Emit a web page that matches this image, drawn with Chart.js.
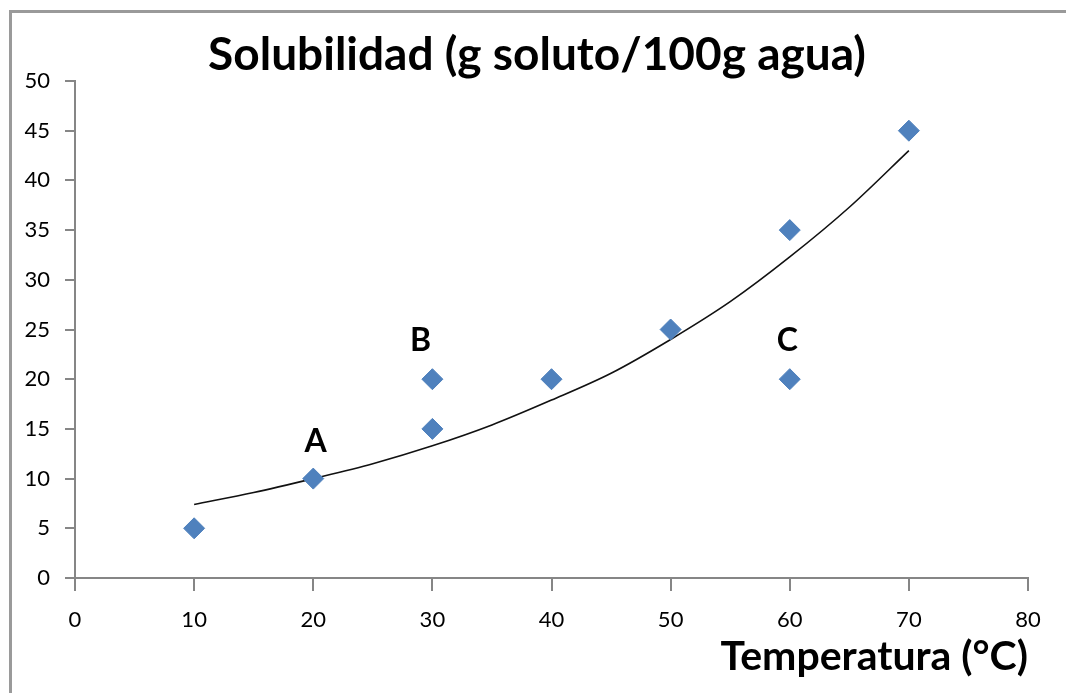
<!DOCTYPE html>
<html>
<head>
<meta charset="utf-8">
<script src="https://cdn.jsdelivr.net/npm/chart.js@4"></script>
<style>
  html, body { margin: 0; padding: 0; background: #fff; }
  canvas { display: block; }
</style>
</head>
<body>
<canvas id="c" width="1066" height="693"></canvas>
<script>
// Measured data points (temperature °C, solubility g/100g water)
const temperatures = [10, 20, 30, 30, 40, 50, 60, 60, 70];
const solubility   = [5, 10, 15, 20, 20, 25, 35, 20, 45];

// Trendline values
const trendX = [10, 15, 20, 25, 30, 35, 40, 45, 50, 55, 60, 65, 70];
const trendY = [7.4, 8.6, 10.0, 11.5, 13.3, 15.4, 17.9, 20.6, 24.0, 27.8, 32.3, 37.3, 43.0];

// Point annotations
const noteText = ['A', 'B', 'C'];
const noteX = [20.2, 29.0, 59.8];
const noteY = [13.7, 23.9, 23.9];

// Axis ranges
const xMin = 0, xMax = 80, xStep = 10;
const yMin = 0, yMax = 50, yStep = 5;

const axisColor = '#868686';
const markerColor = '#4F81BD';

const frame = {
  id: 'frame',
  beforeDraw(chart) {
    const ctx = chart.ctx;
    ctx.save();
    ctx.fillStyle = '#fff';
    ctx.fillRect(0, 0, chart.width, chart.height);
    ctx.strokeStyle = '#9a9a9a';
    ctx.lineWidth = 3;
    ctx.strokeRect(10.5, 11.5, chart.width + 50, chart.height + 50);
    ctx.restore();
  }
};

const notes = {
  id: 'notes',
  afterDatasetsDraw(chart) {
    const ctx = chart.ctx;
    const xs = chart.scales.x, ys = chart.scales.y;
    ctx.save();
    ctx.font = 'bold 32px Lato';
    ctx.fillStyle = '#000';
    ctx.textAlign = 'center';
    ctx.textBaseline = 'middle';
    noteText.forEach((t, i) => {
      ctx.fillText(t, xs.getPixelForValue(noteX[i]), ys.getPixelForValue(noteY[i]));
    });
    ctx.restore();
  }
};

Chart.defaults.font.family = 'Lato';
Chart.defaults.color = '#000';

new Chart(document.getElementById('c'), {
  type: 'scatter',
  data: {
    datasets: [
      {
        label: 'Solubilidad',
        data: temperatures.map((t, i) => ({ x: t, y: solubility[i] })),
        pointStyle: 'rectRot',
        pointRadius: 10.5,
        pointHoverRadius: 10.5,
        backgroundColor: markerColor,
        borderColor: markerColor,
        borderWidth: 1,
        order: 1
      },
      {
        type: 'line',
        label: 'Tendencia',
        data: trendX.map((t, i) => ({ x: t, y: trendY[i] })),
        borderColor: '#111',
        borderWidth: 1.6,
        pointRadius: 0,
        cubicInterpolationMode: 'monotone',
        fill: false,
        order: 2
      }
    ]
  },
  options: {
    responsive: false,
    animation: false,
    layout: { padding: { left: 16, right: 8, top: 0, bottom: 0 } },
    plugins: {
      legend: { display: false },
      tooltip: { enabled: false },
      title: {
        display: true,
        text: 'Solubilidad (g soluto/100g agua)',
        font: { family: 'Lato', size: 46, weight: 'bold', lineHeight: 1.0 },
        color: '#000',
        padding: { top: 32, bottom: 3 }
      }
    },
    scales: {
      x: {
        type: 'linear',
        min: xMin, max: xMax,
        ticks: { stepSize: xStep, font: { size: 22 }, padding: 16, color: '#000' },
        grid: { drawOnChartArea: false, drawTicks: true, tickLength: 13, color: axisColor, lineWidth: 2 },
        border: { display: true, color: axisColor, width: 2 },
        title: {
          display: true,
          text: 'Temperatura (°C)',
          align: 'end',
          font: { family: 'Lato', size: 41, weight: 'bold' },
          color: '#000',
          padding: { top: 0, bottom: 12 }
        },
        afterFit(scale) { scale.height = 115; }
      },
      y: {
        type: 'linear',
        min: yMin, max: yMax,
        ticks: { stepSize: yStep, font: { size: 22 }, padding: 15, color: '#000' },
        grid: { drawOnChartArea: false, drawTicks: true, tickLength: 10, color: axisColor, lineWidth: 2 },
        border: { display: true, color: axisColor, width: 2 },
        afterFit(scale) { scale.width = 59; }
      },
      y2: {
        type: 'linear',
        position: 'right',
        display: true,
        min: yMin, max: yMax,
        ticks: { display: false },
        grid: { display: false, drawTicks: false },
        border: { display: false },
        afterFit(scale) { scale.width = 30; }
      }
    }
  },
  plugins: [frame, notes]
});
</script>
</body>
</html>
